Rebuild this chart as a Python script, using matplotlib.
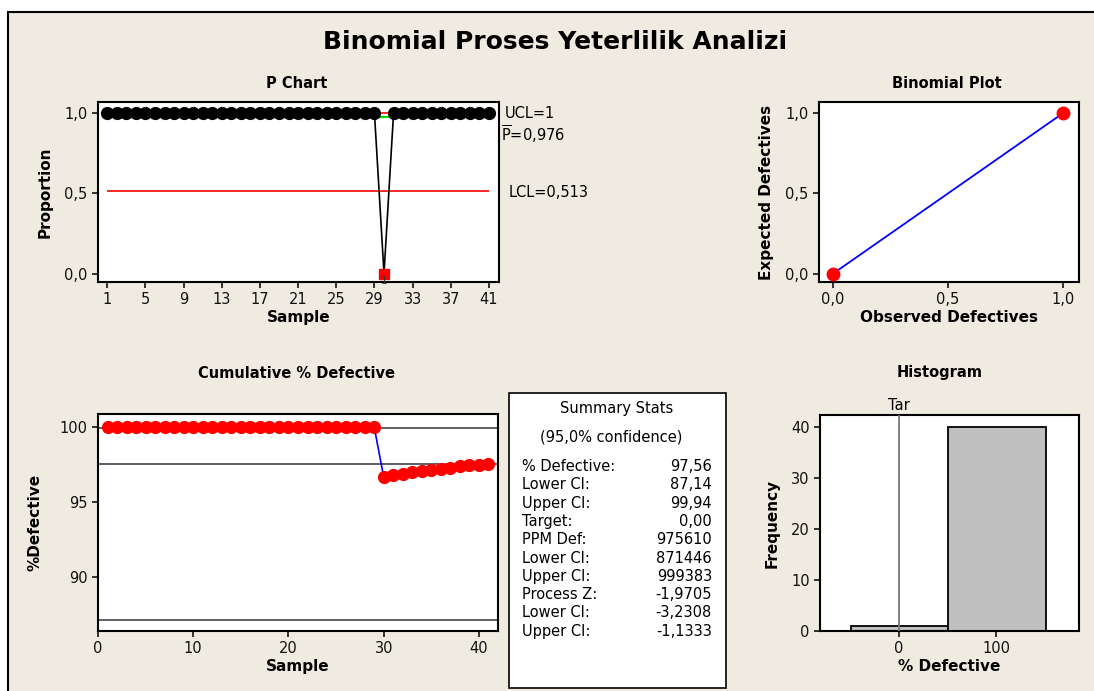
import numpy as np
import matplotlib
matplotlib.use('Agg')
import matplotlib.pyplot as plt
from matplotlib.patches import Rectangle

W, H = 1094, 691
bg = '#EFEBE1'

# P chart data
samples = np.arange(1, 42)
proportion = [1.0]*29 + [0.0] + [1.0]*11
ucl, pbar, lcl = 1.0, 0.976, 0.513
p_ticks = [1, 5, 9, 13, 17, 21, 25, 29, 33, 37, 41]

# binomial plot
observed = [0.0, 1.0]
expected = [0.0, 1.0]

# cumulative % defective
cum_defective = [100.0]*29 + [96.67, 96.77, 96.88, 96.97, 97.06, 97.14,
	97.22, 97.30, 97.37, 97.44, 97.50, 97.56]
pct_def, lower_ci, upper_ci = 97.56, 87.14, 99.94

# histogram
hist_edges = [-49.0, 50.5, 151.5]
hist_counts = [1, 40]
target = 0.0

stat_names = ['% Defective:', 'Lower CI:', 'Upper CI:', 'Target:', 'PPM Def:',
	'Lower CI:', 'Upper CI:', 'Process Z:', 'Lower CI:', 'Upper CI:']
stat_values = ['97,56', '87,14', '99,94', '0,00', '975610', '871446', '999383',
	'-1,9705', '-3,2308', '-1,1333']

plt.rcParams['font.family'] = 'DejaVu Sans'
fig = plt.figure(figsize=(W/100, H/100), dpi=100, facecolor='white')

frame = Rectangle((8/W, -0.05), 1.1, 1 - 12/H + 0.05, transform=fig.transFigure,
	facecolor=bg, edgecolor='black', lw=1.5, clip_on=False, zorder=-10)
fig.patches.append(frame)


def px_axes(l, t, r, b):
	ax = fig.add_axes([l/W, 1 - b/H, (r - l)/W, (b - t)/H])
	ax.set_facecolor('white')
	for s in ax.spines.values():
		s.set_linewidth(1.5)
		s.set_color('black')
	ax.tick_params(direction='out', length=4, width=1.2, labelsize=10.5, colors='#111111')
	return ax


def fig_text(x, y, s, **kw):
	fig.text(x/W, 1 - y/H, s, **kw)


fig_text(555, 42, 'Binomial Proses Yeterlilik Analizi', ha='center', va='center',
	fontsize=18, fontweight='bold')

# P chart
ax1 = px_axes(97.7, 102, 499, 282)
ax1.hlines(ucl, 1, 41, color='red', lw=1.2, zorder=1)
ax1.hlines(pbar, 1, 41, color='#00DD00', lw=1.5, zorder=1)
ax1.hlines(lcl, 1, 41, color='red', lw=1.2, zorder=1)
ax1.plot(samples, proportion, color='black', lw=1.2, zorder=2)
pr = np.array(proportion)
ok = pr > 0
ax1.plot(samples[ok], pr[ok], 'o', color='black', ms=8.5, zorder=3)
ax1.plot(samples[~ok], pr[~ok], 's', color='red', ms=7, zorder=3)
ax1.text(samples[~ok][0], -0.045, '1', ha='center', va='center', fontsize=7.5, color='#333333')
ax1.set_xlim(0, 42.05)
ax1.set_ylim(-0.052, 1.07)
ax1.set_xticks(p_ticks)
ax1.set_yticks([0, 0.5, 1.0])
ax1.set_yticklabels(['0,0', '0,5', '1,0'])
ax1.set_xlabel('Sample', fontsize=11, fontweight='bold', labelpad=2)
ax1.set_ylabel('Proportion', fontsize=11, fontweight='bold', labelpad=8)
fig_text(297, 84, 'P Chart', ha='center', va='center', fontsize=10.5, fontweight='bold')
fig_text(505, 113, 'UCL=1', ha='left', va='center', fontsize=10.5)
fig_text(501, 134, r'$\overline{\mathrm{P}}$=0,976', ha='left', va='center', fontsize=10.5)
fig_text(509, 192, 'LCL=0,513', ha='left', va='center', fontsize=10.5)

# binomial plot
ax2 = px_axes(819, 102, 1079, 282)
ax2.plot(observed, expected, color='blue', lw=1.3, zorder=2)
ax2.plot(observed, expected, 'o', color='red', ms=9, zorder=3, clip_on=False)
ax2.set_xlim(-0.061, 1.07)
ax2.set_ylim(-0.052, 1.07)
ax2.set_xticks([0, 0.5, 1.0])
ax2.set_xticklabels(['0,0', '0,5', '1,0'])
ax2.set_yticks([0, 0.5, 1.0])
ax2.set_yticklabels(['0,0', '0,5', '1,0'])
ax2.set_xlabel('Observed Defectives', fontsize=11, fontweight='bold', labelpad=2)
ax2.set_ylabel('Expected Defectives', fontsize=11, fontweight='bold', labelpad=8)
fig_text(947, 84, 'Binomial Plot', ha='center', va='center', fontsize=10.5, fontweight='bold')

# cumulative % defective
ax3 = px_axes(98, 414, 498, 631)
for v in [upper_ci, pct_def, lower_ci]:
	ax3.axhline(v, color='#444444', lw=1.2, zorder=1)
ax3.plot(samples, cum_defective, color='blue', lw=1.2, zorder=2)
ax3.plot(samples, cum_defective, 'o', color='red', ms=8.5, zorder=3)
ax3.set_xlim(0, 42.0)
ax3.set_ylim(86.4, 100.87)
ax3.set_xticks([0, 10, 20, 30, 40])
ax3.set_yticks([90, 95, 100])
ax3.set_xlabel('Sample', fontsize=11, fontweight='bold', labelpad=2)
ax3.set_ylabel('%Defective', fontsize=11, fontweight='bold', labelpad=12)
fig_text(297, 373, 'Cumulative % Defective', ha='center', va='center', fontsize=10.5, fontweight='bold')

# summary stats box
box = Rectangle((509/W, 1 - 688/H), (726 - 509)/W, (688 - 393)/H, transform=fig.transFigure,
	facecolor='white', edgecolor='black', lw=1.2)
fig.patches.append(box)
fig_text(617, 408, 'Summary Stats', ha='center', va='center', fontsize=10.5)
fig_text(611, 437, '(95,0% confidence)', ha='center', va='center', fontsize=10.5)
for i, (n, v) in enumerate(zip(stat_names, stat_values)):
	y = 466.7 + i*18.28
	fig_text(522, y, n, ha='left', va='center', fontsize=10.5)
	fig_text(712, y, v, ha='right', va='center', fontsize=10.5)

# histogram
ax4 = px_axes(820, 415, 1079, 631)
lefts = hist_edges[:-1]
widths = np.diff(hist_edges)
ax4.bar(lefts, hist_counts, width=widths, align='edge', color='#C0C0C0',
	edgecolor='black', lw=1.3, zorder=2)
ax4.axvline(target, color='#777777', lw=1.3, zorder=3)
ax4.text(target, 1.01, 'Tar', transform=ax4.get_xaxis_transform(), ha='center',
	va='bottom', fontsize=10.5)
ax4.set_xlim(-81.4, 185.6)
ax4.set_ylim(0, 42.35)
ax4.set_xticks([0, 100])
ax4.set_yticks([0, 10, 20, 30, 40])
ax4.set_xlabel('% Defective', fontsize=11, fontweight='bold', labelpad=2)
ax4.set_ylabel('Frequency', fontsize=11, fontweight='bold', labelpad=8)
fig_text(940, 373, 'Histogram', ha='center', va='center', fontsize=10.5, fontweight='bold')

fig.savefig('out.png', dpi=100, facecolor=fig.get_facecolor())
